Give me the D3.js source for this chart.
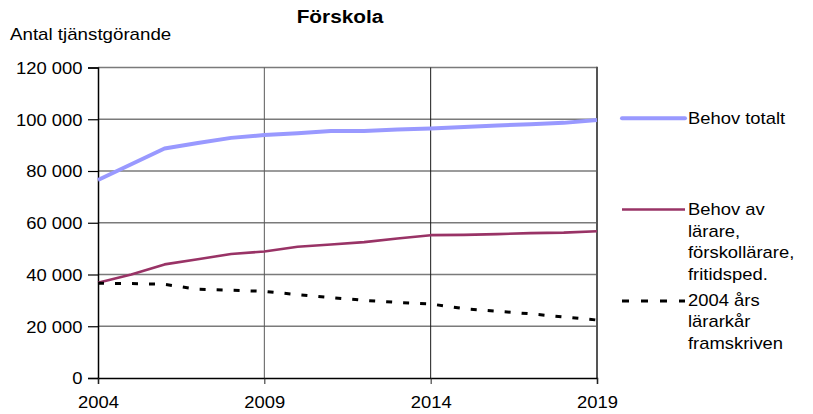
<!DOCTYPE html>
<html>
<head>
<meta charset="utf-8">
<script src="https://cdn.jsdelivr.net/npm/d3@7/dist/d3.min.js"></script>
<style>
  html, body { margin: 0; padding: 0; background: #fff; }
  svg { display: block; font-family: "Liberation Sans", Arial, sans-serif; }
</style>
</head>
<body>
<svg id="chart" width="813" height="414"></svg>
<script>
// ---- Data ----
const years = [2004, 2005, 2006, 2007, 2008, 2009, 2010, 2011, 2012, 2013, 2014, 2015, 2016, 2017, 2018, 2019];
const behovTotalt = [76500, 82600, 88700, 90800, 92800, 93900, 94600, 95500, 95500, 96000, 96400, 97000, 97600, 98100, 98600, 99700];
const behovLarare = [36800, 40000, 43900, 45900, 47900, 48900, 50700, 51600, 52500, 53900, 55200, 55300, 55600, 56000, 56200, 56700];
const larark2004 = [36600, 36500, 36200, 34300, 33900, 33500, 32200, 31100, 30000, 29200, 28600, 26800, 25800, 24800, 23600, 22400];
const yTicks = [0, 20000, 40000, 60000, 80000, 100000, 120000];
const xTicks = [2004, 2009, 2014, 2019];
const seriesNames = ["Behov totalt", "Behov av lärare, förskollärare, fritidsped.", "2004 års lärarkår framskriven"];
const legendLines = [["Behov totalt"], ["Behov av", "lärare,", "förskollärare,", "fritidsped."], ["2004 års", "lärarkår", "framskriven"]];
const titleText = "Förskola";
const yAxisTitle = "Antal tjänstgörande";

// ---- Layout ----
const svg = d3.select("#chart");
const L = 98, R = 597, T = 67.5, B = 378;
const SX = 1.15;

const x = d3.scaleLinear().domain([2004, 2019]).range([L, R]);
const y = d3.scaleLinear().domain([0, 120000]).range([B, T]);

const locale = d3.formatLocale({ decimal: ",", thousands: " ", grouping: [3], currency: ["", ""] });
const fmt = locale.format(",");

// Horizontal gridlines
svg.append("g").selectAll("line").data(yTicks.filter(d => d > 0)).join("line")
  .attr("x1", L).attr("x2", R)
  .attr("y1", d => y(d)).attr("y2", d => y(d))
  .attr("stroke", "#7a7a7a").attr("stroke-width", 1.5);

// Vertical gridlines
svg.append("g").selectAll("line").data(xTicks.filter(d => d > 2004 && d < 2019)).join("line")
  .attr("x1", d => x(d)).attr("x2", d => x(d))
  .attr("y1", T).attr("y2", B)
  .attr("stroke", (d, i) => i === 0 ? "#5a5a5a" : "#1a1a1a").attr("stroke-width", 1);

// Right border
svg.append("line").attr("x1", R).attr("x2", R).attr("y1", T - 0.75).attr("y2", B)
  .attr("stroke", "#555").attr("stroke-width", 2);

// Y axis
const yAxis = svg.append("g").attr("transform", `translate(${L},0)`)
  .call(d3.axisLeft(y).tickValues(yTicks).tickSize(10).tickPadding(0).tickFormat(fmt));
yAxis.select(".domain").attr("stroke", "#000").attr("stroke-width", 1.5);
yAxis.selectAll(".tick line").attr("stroke", "#000").attr("stroke-width", 1.2);
yAxis.selectAll("text")
  .attr("x", null).attr("dy", null)
  .attr("transform", `translate(-15.5,5.8) scale(${SX},1)`)
  .attr("font-size", 16).attr("fill", "#000").attr("text-anchor", "end");

// X axis
const xAxis = svg.append("g").attr("transform", `translate(0,${B})`)
  .call(d3.axisBottom(x).tickValues(xTicks).tickSize(6).tickPadding(0).tickFormat(d3.format("d")));
xAxis.select(".domain").attr("stroke", "#000").attr("stroke-width", 1.5);
xAxis.selectAll(".tick line").attr("stroke", "#222").attr("stroke-width", 1);
xAxis.selectAll("text")
  .attr("y", null).attr("dy", null)
  .attr("transform", `translate(0,30.3) scale(${SX},1)`)
  .attr("font-size", 16).attr("fill", "#000").attr("text-anchor", "middle");

// Lines
const line = d3.line().x((d, i) => x(years[i])).y(d => y(d));
svg.append("path").datum(behovTotalt).attr("d", line)
  .attr("fill", "none").attr("stroke", "#9999ff").attr("stroke-width", 4).attr("stroke-linejoin", "round");
svg.append("path").datum(behovLarare).attr("d", line)
  .attr("fill", "none").attr("stroke", "#993366").attr("stroke-width", 2.6).attr("stroke-linejoin", "round");
svg.append("path").datum(larark2004).attr("d", line)
  .attr("fill", "none").attr("stroke", "#000").attr("stroke-width", 3).attr("stroke-dasharray", "6,11");

// Title
svg.append("text").attr("transform", `translate(340,23) scale(1.19,1)`)
  .attr("text-anchor", "middle").attr("font-weight", "bold").attr("font-size", 17.5).attr("fill", "#000")
  .text(titleText);

// Y axis title
svg.append("text").attr("transform", `translate(10,40) scale(1.17,1)`)
  .attr("font-size", 16).attr("fill", "#000").text(yAxisTitle);

// Legend
const legendStyles = [
  { y: 118.3, stroke: "#9999ff", width: 4, dash: null, cap: "round", base: 124 },
  { y: 209.5, stroke: "#993366", width: 2.6, dash: null, cap: "butt", base: 215.3 },
  { y: 301, stroke: "#000", width: 3, dash: "7,12", cap: "butt", base: 305.8 }
];
const lg = svg.append("g");
legendStyles.forEach((s, i) => {
  lg.append("line").attr("x1", 622).attr("x2", 685).attr("y1", s.y).attr("y2", s.y)
    .attr("stroke", s.stroke).attr("stroke-width", s.width)
    .attr("stroke-linecap", s.cap).attr("stroke-dasharray", s.dash);
  legendLines[i].forEach((t, j) => {
    lg.append("text").attr("transform", `translate(688,${s.base + j * 21.5}) scale(${SX},1)`)
      .attr("font-size", 16).attr("fill", "#000").text(t);
  });
});
</script>
</body>
</html>
